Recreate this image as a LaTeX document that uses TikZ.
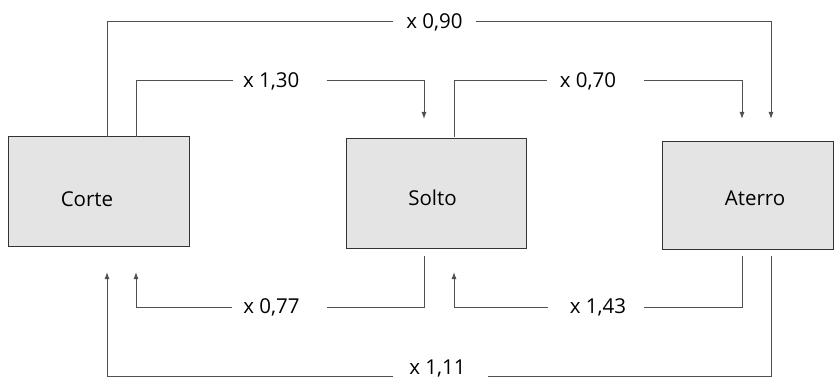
\documentclass[tikz,border=0pt]{standalone}
\usepackage{fontspec}
\setmainfont{Open Sans}
\usetikzlibrary{arrows.meta,calc}
\definecolor{boxfill}{HTML}{E4E4E4}
\definecolor{boxline}{HTML}{333333}
\definecolor{linec}{HTML}{505050}
\begin{document}
\begin{tikzpicture}[x=1pt,y=-1pt,
  box/.style={draw=boxline, fill=boxfill, line width=1pt, inner sep=0pt, outer sep=0pt,
    font=\fontsize{20.5}{24}\selectfont, text depth=0pt},
  conn/.style={draw=linec, line width=1pt},
  arr/.style={-{Latex[length=7pt,width=5pt]}},
  lbl/.style={inner sep=0pt, outer sep=0pt, minimum height=16pt, font=\fontsize{20.5}{24}\selectfont, text=black}]
\useasboundingbox (0,0) rectangle (835,377);

% boxes
\node[box, minimum width=181pt, minimum height=109pt, text height=29pt] (corte) at (98.5,191.5) {Corte\hspace*{23pt}};
\node[box, minimum width=180pt, minimum height=109pt, text height=24pt] (solto) at (436,193.5) {Solto\hspace*{7pt}};
\node[box, minimum width=171pt, minimum height=107pt, text height=20pt] (aterro) at (748,195.5) {\hspace*{14pt}Aterro};

% column coordinates
\coordinate (ca) at (107,0);
\coordinate (cb) at (136,0);
\coordinate (cc) at (424,0);
\coordinate (cd) at (454,0);
\coordinate (ce) at (742,0);
\coordinate (cf) at (771,0);

% arrow tips (free ends)
\coordinate (t130) at (424,119);
\coordinate (t070) at (742,119);
\coordinate (t090) at (771,119);
\coordinate (b077) at (136,272);
\coordinate (b111) at (107,272);
\coordinate (b143) at (454,272);

% labels
\node[lbl, minimum width=83pt] (l090) at (434.5,22) {x 0,90};
\node[lbl, minimum width=94pt] (l130) at (279.7,81) {x 1,30\hspace*{17pt}};
\node[lbl, minimum width=97pt] (l070) at (595.5,81) {x 0,70\hspace*{15pt}};
\node[lbl, minimum width=95pt] (l077) at (279.5,307) {x 0,77\hspace*{16pt}};
\node[lbl, minimum width=96pt] (l143) at (596,307) {\hspace*{4pt}x 1,43};
\node[lbl, minimum width=95pt, minimum height=0pt, text height=0pt, text depth=4pt] (l111) at (440.5,376) {x 1,11\hspace*{6pt}};

% top connectors
\draw[conn] (corte.north -| ca) |- (l090.west);
\draw[conn,arr] (l090.east) -| (t090);
\draw[conn] (corte.north -| cb) |- (l130.west);
\draw[conn,arr] (l130.east) -| (t130);
\draw[conn] ($(solto.north -| cd)+(0,-2)$) |- (l070.west);
\draw[conn,arr] (l070.east) -| (t070);

% bottom connectors
\draw[conn] ($(solto.south -| cc)+(0,8)$) |- (l077.east);
\draw[conn,arr] (l077.west) -| (b077);
\draw[conn] ($(aterro.south -| ce)+(0,7)$) |- (l143.east);
\draw[conn,arr] (l143.west) -| (b143);
\draw[conn] ($(aterro.south -| cf)+(0,7)$) |- (l111.east);
\draw[conn,arr] (l111.west) -| (b111);
\end{tikzpicture}
\end{document}
